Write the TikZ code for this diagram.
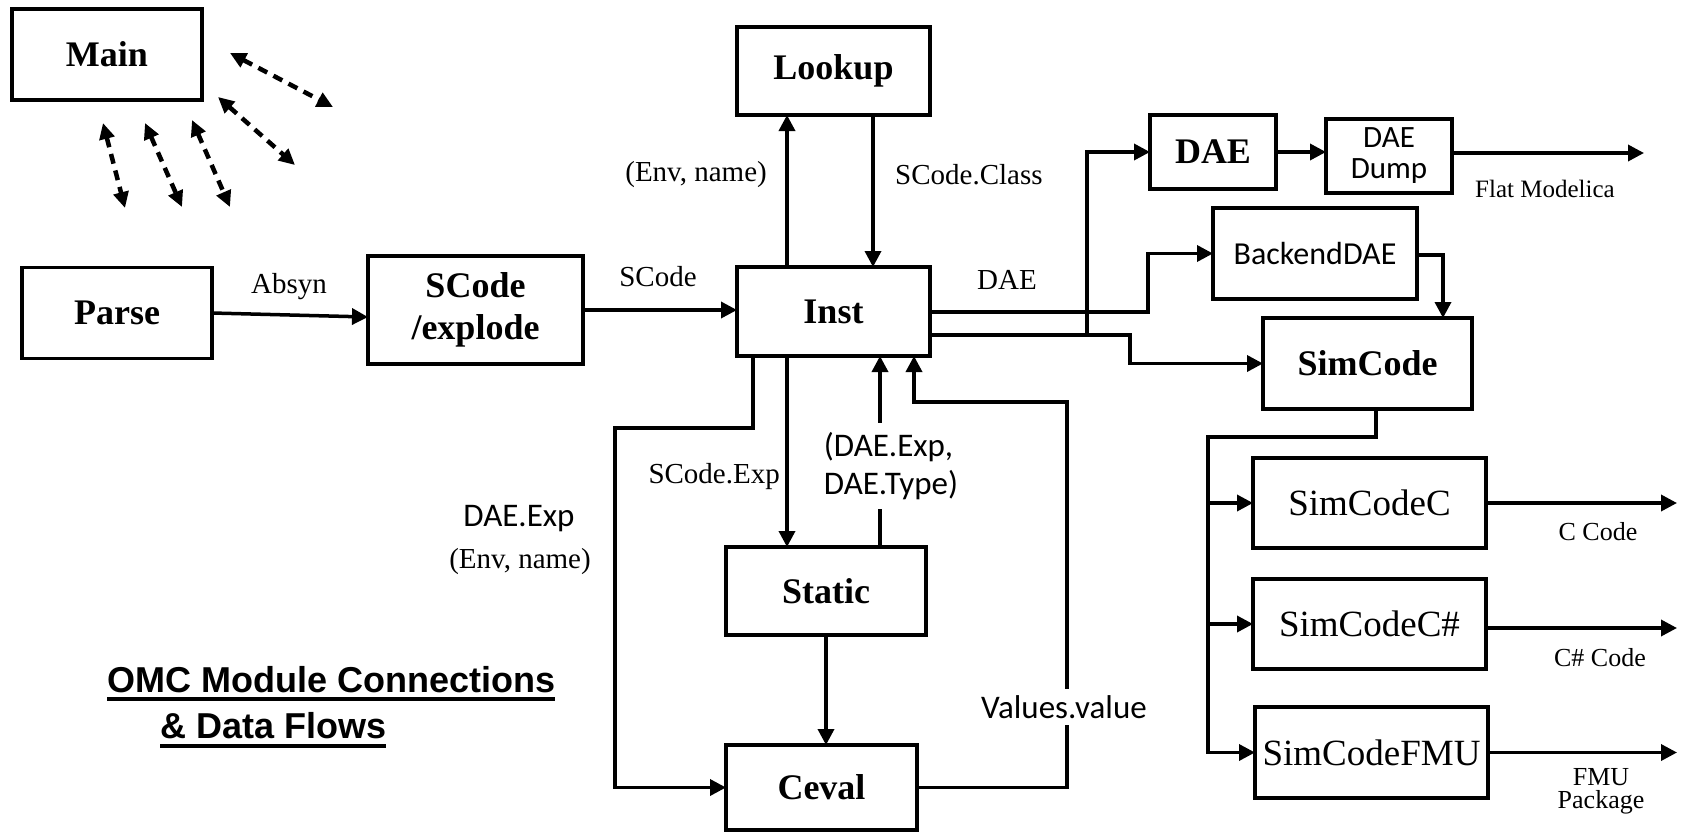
\documentclass[tikz,border=0pt]{standalone}
\usepackage{fontspec}
\setmainfont{Liberation Serif}
\newfontfamily\carl{Carlito}
\newfontfamily\arialf{Liberation Sans}
\usetikzlibrary{arrows.meta,calc}
\begin{document}
\begin{tikzpicture}[x=1pt,y=-1pt,
  box/.style={draw,line width=3.5pt,inner sep=0pt,outer sep=0pt,align=center},
  bbox/.style={box,font=\fontsize{36}{36}\selectfont\bfseries},
  rbox/.style={box,font=\fontsize{37}{40}\selectfont},
  arr/.style={line width=3.5pt,-{Triangle[length=16pt,width=16pt]}},
  lbl/.style={inner sep=0pt,font=\fontsize{29}{32}\selectfont},
  slbl/.style={inner sep=0pt,font=\fontsize{26}{23}\selectfont,align=center},
  clbl/.style={inner sep=0pt,font=\carl\fontsize{33}{38}\selectfont},
  dasharr/.style={line width=4.5pt,dash pattern=on 10pt off 7pt,{Triangle[length=16pt,width=15pt]}-{Triangle[length=16pt,width=15pt]}},
  title/.style={inner sep=0pt,anchor=base west,font=\arialf\bfseries\fontsize{36}{40}\selectfont},
]
\useasboundingbox (0,0) rectangle (1684,833);

% boxes
\node[bbox,minimum width=190pt,minimum height=91pt] (main) at (107,54.5) {Main};
\node[bbox,minimum width=193pt,minimum height=88pt] (lookup) at (833.5,71) {Lookup};
\node[bbox,minimum width=190pt,minimum height=91pt] (parse) at (117,313) {Parse};
\node[bbox,font=\fontsize{36}{42}\selectfont\bfseries,minimum width=215pt,minimum height=108pt] (scode) at (475.5,310) {SCode\\/explode};
\node[bbox,minimum width=193pt,minimum height=89pt] (inst) at (833.5,311.5) {Inst};
\node[bbox,minimum width=200pt,minimum height=88pt] (static) at (826,591) {Static};
\node[bbox,minimum width=191pt,minimum height=85pt] (ceval) at (821.5,787.5) {Ceval};
\node[bbox,minimum width=126pt,minimum height=74pt] (dae) at (1213,152) {DAE};
\node[box,font=\carl\fontsize{31}{31}\selectfont,minimum width=126pt,minimum height=74pt] (dump) at (1389,156) {DAE\\Dump};
\node[box,font=\carl\fontsize{32}{36}\selectfont,minimum width=204pt,minimum height=91pt] (backend) at (1315,253.5) {BackendDAE};
\node[bbox,minimum width=209pt,minimum height=91pt] (simcode) at (1367.5,363.5) {SimCode};
\node[rbox,minimum width=233pt,minimum height=90pt] (simc) at (1369.5,503) {SimCodeC};
\node[rbox,minimum width=233pt,minimum height=90pt] (simcs) at (1369.5,624) {SimCodeC\#};
\node[rbox,minimum width=233pt,minimum height=91pt] (simfmu) at (1371.5,752.5) {SimCodeFMU};

% helper coordinates
\coordinate (xend) at (1677,0);
\coordinate (flatend) at (1644,153);
\coordinate (bus) at (1208,437);
\coordinate (lbus) at (615,428);
\coordinate (vr) at (1067,402);
\coordinate (j1) at ($(inst.north east)+(157,68)$);

% dashed arrows around Main
\coordinate (d1a) at (230,53);  \coordinate (d1b) at (333,107);
\coordinate (d2a) at (218,97);  \coordinate (d2b) at (295,165);
\coordinate (d3a) at (192,120); \coordinate (d3b) at (230,207);
\coordinate (d4a) at (145,123); \coordinate (d4b) at (182,207);
\coordinate (d5a) at (103,123); \coordinate (d5b) at (125,208);
\foreach \i in {1,...,5} {\draw[dasharr] (d\i a) -- (d\i b);}

% left chain
\draw[arr] (parse.east) -- ($(scode.west)+(0,7)$);
\node[lbl] (absyn) at (289,287) {Absyn};
\draw[arr] (scode.east) -- (scode.east -| inst.west);
\node[lbl] (scodel) at (658,277) {SCode};

% lookup
\draw[arr] ($(inst.north west)+(50,0)$) -- ($(lookup.south west)+(50,0)$);
\draw[arr] ($(lookup.south west)+(136,0)$) -- ($(inst.north west)+(136,0)$);
\node[lbl,anchor=east] (envname) at (767,175) {(Env, name)};
\node[lbl,anchor=west] (sclass) at (895,175) {SCode.Class};

% right of inst
\node[lbl] (daelbl) at (1007,280) {DAE};
\draw[arr] ($(inst.north east)+(0,45)$) -| ($(backend.west)+(-65,0)$) -- (backend.west);
\draw[arr] ($(inst.north east)+(0,68)$) -| ($(simcode.west)+(-133,0)$) -- (simcode.west);
\draw[arr] (j1) |- (dae.west);
\draw[arr] (dae.east) -- (dae.east -| dump.west);
\draw[arr] ($(dump.east)+(0,-3)$) -- (flatend);
\node[slbl,font=\fontsize{25}{23}\selectfont] (flat) at (1545,189) {Flat Modelica};
\draw[arr] ($(backend.east)+(0,1.5)$) -| ($(simcode.north west)+(180,0)$);

% simcode branches
\draw[arr] ($(simcode.south west)+(113,0)$) |- (bus) |- (simfmu.west);
\draw[arr] (bus |- simc.west) -- (simc.west);
\draw[arr] (bus |- simcs.west) -- (simcs.west);
\draw[arr] (simc.east) -- (simc.east -| xend);
\draw[arr] ($(simcs.east)+(0,4)$) -- ($(simcs.east -| xend)+(0,4)$);
\draw[arr] (simfmu.east) -- (simfmu.east -| xend);
\node[slbl] (ccode) at (1598,532) {C Code};
\node[slbl] (cscode) at (1600,658) {C\# Code};
\node[slbl] (fmupkg) at (1601,791) {FMU\\Package};

% below inst
\draw[arr] ($(inst.south west)+(16,0)$) |- (lbus) |- (ceval.west);
\draw[arr] ($(inst.south west)+(50,0)$) -- ($(static.north west)+(61,0)$);
\node[lbl,anchor=east] (scexp) at (780,477) {SCode.Exp};
\draw[arr] ($(static.north west)+(154,0)$) -- ($(inst.south west)+(143,0)$);
\node[clbl,fill=white,align=left,inner xsep=2pt,inner ysep=9pt] (daetype) at (891,466) {(DAE.Exp,\\DAE.Type)};
\draw[arr] (static.south) -- (static.south |- ceval.north);
\draw[arr] (ceval.east) -| (vr) -| ($(inst.south west)+(177,0)$);
\node[clbl,fill=white,inner xsep=2pt,inner ysep=6pt] (values) at (1064,707) {Values.value};

\node[clbl] (daeexp) at (519,519) {DAE.Exp};
\node[lbl] (envname2) at (520,562) {(Env, name)};

% title
\node[title] (t1) at (107,692) {OMC Module Connections};
\node[title] (t2) at (160,738) {\& Data Flows};
\draw[line width=3.5pt] ($(t1.base west)+(0,7)$) -- ($(t1.base east)+(0,7)$);
\draw[line width=3.5pt] ($(t2.base west)+(0,8)$) -- ($(t2.base east)+(0,8)$);
\end{tikzpicture}
\end{document}
